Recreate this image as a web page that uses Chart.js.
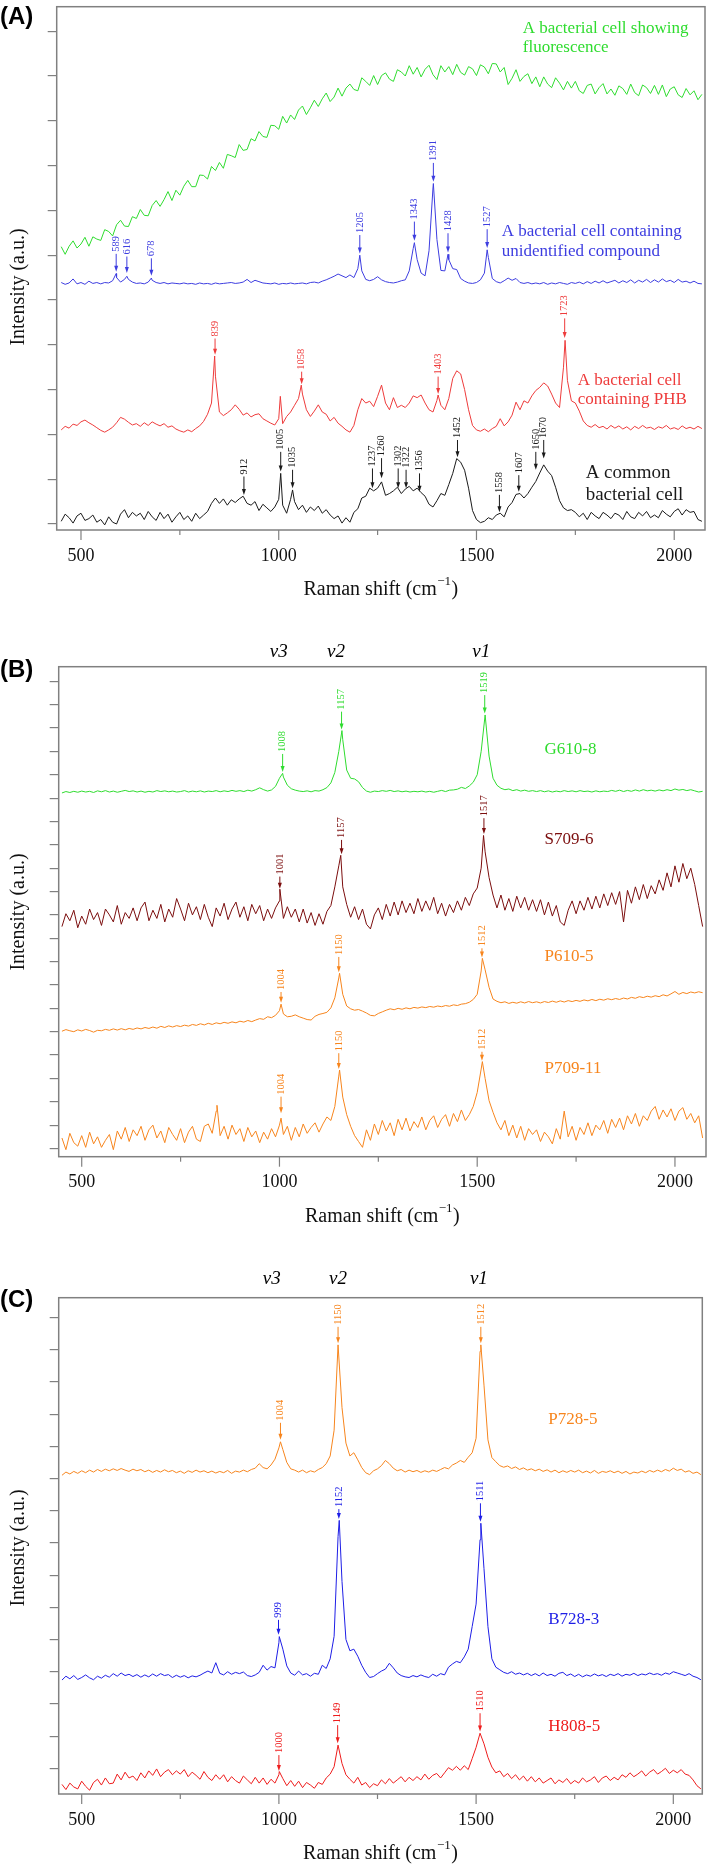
<!DOCTYPE html>
<html>
<head>
<meta charset="utf-8">
<script src="https://cdn.jsdelivr.net/npm/chart.js@4.4.1/dist/chart.umd.min.js"></script>
<style>
    body { margin: 0; background: #fff; width: 709px; height: 1867px; position: relative; overflow: hidden; }
    canvas { position: absolute; left: 0; }
</style>
</head>
<body>
<canvas id="panelA" width="709" height="605" style="top:0px"></canvas>
<canvas id="panelB" width="709" height="600" style="top:630px"></canvas>
<canvas id="panelC" width="709" height="612" style="top:1255px"></canvas>
<script>
// =========================
// DATA (Raman shift grid, cm-1)
// =========================
const shiftGrid = [
    450, 460, 470, 480, 490, 500, 510, 520, 530, 540,
    550, 560, 570, 580, 590, 600, 610, 620, 630, 640,
    650, 660, 670, 680, 690, 700, 710, 720, 730, 740,
    750, 760, 770, 780, 790, 800, 810, 820, 830, 840,
    850, 860, 870, 880, 890, 900, 910, 920, 930, 940,
    950, 960, 970, 980, 990, 1000, 1010, 1020, 1030, 1040,
    1050, 1060, 1070, 1080, 1090, 1100, 1110, 1120, 1130, 1140,
    1150, 1160, 1170, 1180, 1190, 1200, 1210, 1220, 1230, 1240,
    1250, 1260, 1270, 1280, 1290, 1300, 1310, 1320, 1330, 1340,
    1350, 1360, 1370, 1380, 1390, 1400, 1410, 1420, 1430, 1440,
    1450, 1460, 1470, 1480, 1490, 1500, 1510, 1520, 1530, 1540,
    1550, 1560, 1570, 1580, 1590, 1600, 1610, 1620, 1630, 1640,
    1650, 1660, 1670, 1680, 1690, 1700, 1710, 1720, 1730, 1740,
    1750, 1760, 1770, 1780, 1790, 1800, 1810, 1820, 1830, 1840,
    1850, 1860, 1870, 1880, 1890, 1900, 1910, 1920, 1930, 1940,
    1950, 1960, 1970, 1980, 1990, 2000, 2010, 2020, 2030, 2040,
    2050, 2060, 2070
];

const xTickValues = [500, 750, 1000, 1250, 1500, 1750, 2000];

// ---- Panel A ----
const fluorescenceCell = [
    61.9, 60.2, 62.0, 63.2, 61.6, 62.5, 64.0, 62.0, 64.1, 63.6,
    63.3, 65.7, 65.3, 64.3, 66.8, 67.8, 66.5, 66.4, 68.6, 68.2,
    70.2, 68.9, 68.8, 71.1, 72.2, 70.9, 72.4, 74.2, 72.2, 74.5,
    73.4, 75.4, 76.7, 75.3, 75.3, 77.9, 77.8, 77.0, 79.8, 78.9,
    80.7, 79.4, 82.5, 82.2, 81.8, 84.7, 83.4, 83.6, 86.0, 85.5,
    87.6, 86.5, 86.3, 89.0, 88.9, 88.1, 91.0, 89.5, 91.3, 90.3,
    92.4, 93.3, 91.4, 92.9, 94.6, 93.2, 94.9, 96.2, 94.3, 95.3,
    97.3, 95.5, 97.3, 98.2, 97.0, 96.7, 99.6, 98.8, 97.9, 100.1,
    98.1, 100.1, 100.7, 99.3, 98.8, 101.4, 100.9, 100.0, 102.3, 100.4,
    101.9, 99.8, 101.5, 102.4, 100.3, 99.2, 102.3, 100.9, 102.1, 100.3,
    102.6, 100.8, 100.2, 102.1, 101.6, 100.1, 102.5, 102.0, 100.5, 102.8,
    102.7, 100.9, 101.9, 98.1, 99.5, 101.4, 98.8, 99.9, 100.5, 98.3,
    99.8, 97.6, 99.8, 98.2, 97.4, 99.6, 98.4, 96.9, 98.8, 97.3,
    98.8, 96.7, 96.1, 97.9, 98.2, 96.0, 97.4, 98.3, 96.0, 97.1,
    95.7, 97.8, 97.2, 95.9, 98.2, 96.3, 95.6, 98.0, 97.4, 96.1,
    97.9, 95.9, 98.0, 95.4, 97.1, 97.6, 95.8, 95.2, 97.2, 95.8,
    96.7, 94.7, 95.9
];
const fluorescencePeaks = [];

const unknownCell = [
    53.9, 53.5, 53.8, 54.7, 53.6, 53.9, 53.5, 54.2, 53.7, 53.9,
    53.6, 53.9, 53.8, 54.3, 55.0, 54.0, 54.6, 54.6, 54.0, 53.7,
    53.8, 53.6, 54.0, 54.4, 53.9, 53.7, 53.9, 53.6, 53.8, 53.7,
    53.6, 53.8, 53.6, 53.7, 53.5, 53.8, 53.6, 53.7, 53.5, 53.8,
    53.6, 53.7, 53.8, 53.9, 53.7, 53.8, 54.0, 54.6, 53.9, 54.4,
    54.1, 53.8, 53.7, 53.6, 53.8, 53.5, 53.7, 53.6, 53.8, 53.6,
    53.7, 53.8, 53.6, 53.9, 54.0, 53.8, 54.2, 54.5, 54.9, 55.3,
    55.8, 55.4, 55.0, 55.6, 55.0, 57.0, 56.5, 54.6, 54.3, 54.6,
    55.2, 54.5, 54.1, 53.9, 53.8, 54.0, 54.3, 54.5, 56.5, 61.5,
    59.0, 56.0, 55.4, 61.0, 75.0, 63.5, 56.6, 56.5, 59.0, 57.0,
    56.8, 54.8, 54.2, 53.8, 53.7, 53.9, 54.5, 56.0, 59.5, 54.8,
    54.1, 53.8, 54.3, 54.9, 54.4, 54.8, 53.9, 53.7, 53.9, 53.6,
    53.8, 53.6, 53.9, 53.5, 53.8, 53.6, 53.9, 53.7, 53.5, 53.9,
    53.7, 54.0, 53.6, 54.1, 53.7, 54.2, 53.8, 54.3, 53.8, 54.1,
    54.4, 53.8, 54.3, 53.9, 54.5, 53.8, 54.4, 54.0, 54.6, 53.9,
    54.5, 54.0, 54.7, 54.1, 54.4, 53.9, 54.6, 54.0, 54.2, 53.8,
    54.2, 53.7, 53.6
];
const unknownPeaks = [[589, 55.9], [616, 55.3], [678, 54.9], [1205, 60.0], [1343, 62.8], [1391, 76.0], [1428, 60.2], [1527, 61.2]];

const phbCell = [
    21.0, 21.8, 21.4, 22.3, 22.0, 22.8, 23.2, 22.6, 22.1, 21.5,
    20.9, 20.5, 21.0, 21.6, 22.6, 23.8, 23.4, 22.7, 22.1, 22.4,
    21.8, 22.6, 22.0, 22.8, 22.3, 21.9, 22.4, 21.6, 21.9, 21.2,
    20.8, 20.5, 21.0, 20.6, 21.3, 21.9, 22.9, 24.5, 27.0, 33.0,
    25.0, 24.2, 24.8, 25.5, 26.6, 25.6, 24.3, 24.8, 23.9, 24.4,
    24.6, 23.5, 23.0, 22.5, 22.1, 23.5, 22.4, 24.0, 25.0, 26.5,
    28.0, 29.0, 25.5, 24.0, 25.2, 26.6, 25.0, 24.5, 23.0, 23.8,
    22.5, 21.8, 21.0, 20.5, 22.0, 25.5, 28.0, 27.0, 27.4, 26.2,
    28.5, 31.0, 27.0, 25.5, 28.2, 26.0, 26.5, 26.0, 27.0, 28.6,
    28.2, 28.8, 27.0, 25.5, 25.0, 27.6, 26.5, 25.5, 28.0, 32.5,
    34.2, 33.5, 30.0, 25.5, 22.0, 21.0, 20.7, 21.2, 20.6, 21.3,
    21.8, 23.5, 21.9, 22.8, 24.3, 27.2, 25.5, 27.5, 27.0, 28.6,
    29.8, 30.5, 31.5, 30.8, 29.0, 27.0, 26.0, 35.0, 32.0, 27.5,
    27.0, 25.2, 23.0, 22.0, 21.6, 22.2, 21.5, 21.8, 21.2, 22.0,
    21.4, 21.9, 21.2, 21.7, 21.0, 21.8, 21.3, 22.0, 21.4, 21.6,
    21.1, 21.7, 21.4, 22.0, 21.2, 21.5, 21.1, 21.9, 21.3, 21.6,
    21.2, 21.8, 21.3
];
const phbPeaks = [[838, 37.5], [1004, 28.5], [1057, 31.0], [1403, 28.8], [1724, 41.0]];

const commonCell = [
    0.6, 2.2, 1.4, 0.2, 1.8, 2.4, 0.8, 1.2, 2.0, 0.4,
    1.0, -0.2, 1.6, 0.4, 0.0, 2.2, 3.2, 1.4, 2.6, 1.8,
    2.4, 1.0, 2.8, 1.6, 0.8, 2.6, 1.2, 2.2, 0.4, 1.6,
    2.6, 1.0, 1.8, 0.6, 2.4, 1.2, 2.0, 2.8, 4.6, 5.8,
    4.6, 5.6, 4.2, 5.4, 4.8, 5.6, 6.2, 4.6, 4.2, 5.0,
    3.0, 4.4, 3.6, 2.8, 3.8, 5.5, 4.2, 2.4, 5.5, 5.0,
    3.2, 4.2, 2.6, 3.8, 3.0, 4.0, 2.4, 3.2, 2.0, 1.2,
    1.8, 0.2, 1.4, 0.4, 2.6, 3.4, 5.8, 6.2, 8.0, 7.4,
    8.0, 9.4, 6.4, 6.8, 7.4, 8.2, 6.8, 7.8, 8.4, 7.4,
    8.0, 7.0, 6.2, 4.4, 3.8, 5.2, 6.8, 6.4, 8.8, 11.3,
    14.6, 13.8, 12.0, 8.0, 3.0, 1.0, 0.3, 0.6, 1.4, 1.0,
    2.0, 2.4, 1.6, 3.8, 4.8, 6.6, 6.8, 5.8, 6.8, 8.2,
    9.5, 11.4, 13.2, 11.8, 10.8, 8.2, 5.2, 3.6, 3.0, 3.2,
    2.6, 1.6, 2.4, 1.0, 2.6, 1.8, 1.2, 2.6, 2.0, 1.2,
    2.4, 2.0, 1.0, 2.8, 1.6, 1.2, 2.6, 1.8, 2.8, 1.4,
    2.0, 1.4, 3.0, 2.2, 1.6, 2.8, 3.4, 2.0, 3.2, 2.6,
    2.8, 1.0, 0.6
];
const commonPeaks = [[1005, 11.3], [1035, 7.6]];

// peak marks: [shift, arrow top, arrow tip]
const unknownMarks = [[589, 60.3, 56.3], [616, 59.7, 56.0], [678, 59.3, 55.4], [1205, 64.5, 60.4], [1343, 67.5, 63.2], [1391, 80.6, 76.4], [1428, 64.9, 60.6], [1527, 65.8, 61.6]];
const phbMarks = [[839, 41.4, 37.8], [1058, 34.0, 31.2], [1403, 32.9, 29.0], [1723, 45.9, 41.5]];
const commonMarks = [[912, 10.6, 6.5], [1005, 16.1, 11.7], [1035, 12.1, 8.0], [1237, 12.4, 8.0], [1260, 14.7, 10.2], [1302, 12.4, 8.0], [1322, 12.1, 8.0], [1356, 11.3, 7.2], [1452, 18.75, 14.9], [1558, 6.5, 2.6], [1607, 10.9, 7.2], [1650, 16.1, 12.1], [1670, 18.75, 14.6]];

// ---- Panel B ----
const g6108 = [
    152.2, 152.8, 152.4, 152.9, 152.5, 153.0, 152.6, 152.9, 152.4, 153.1,
    152.7, 153.2, 152.6, 153.0, 152.5, 152.9, 153.3, 152.8, 153.1, 152.6,
    153.0, 152.5, 152.9, 152.6, 153.2, 152.8, 153.1, 152.7, 153.0, 152.6,
    152.8, 153.2, 152.6, 153.0, 152.7, 153.1, 152.6, 153.0, 152.8, 153.2,
    152.7, 153.1, 152.8, 153.3, 152.9, 153.2, 152.8, 153.4, 153.0, 153.6,
    154.4, 153.6, 153.0, 153.5, 155.0, 158.5, 159.0, 155.5, 154.0, 153.4,
    153.0, 152.8, 153.1, 152.7, 153.2, 153.0, 153.6, 154.5, 156.5, 161.0,
    170.0, 175.0, 162.0, 158.5, 158.2, 157.0, 154.5, 153.0, 152.5, 153.0,
    152.8, 153.2, 152.9, 153.3, 152.8, 153.1, 152.7, 153.0, 152.6, 152.9,
    152.7, 153.0, 152.6, 152.9, 152.5, 152.9, 153.3, 152.8, 153.4, 153.5,
    153.8, 154.6, 154.1, 155.2, 156.8, 160.0, 170.0, 185.6, 168.0, 158.5,
    155.5, 154.2, 153.6, 153.9, 153.2, 153.6, 153.0, 153.4, 152.9, 153.2,
    152.8, 153.2, 152.7, 153.1, 152.6, 153.0, 152.7, 153.2, 152.8, 153.1,
    152.7, 153.2, 152.8, 153.0, 152.6, 153.1, 152.7, 153.0, 152.8, 153.3,
    152.9, 153.4, 152.8, 153.3, 152.9, 153.5, 153.0, 153.6, 153.1, 153.4,
    153.0, 153.5, 153.1, 153.6, 153.2, 153.9, 153.4, 153.7, 153.2, 153.6,
    153.1, 152.6, 152.9
];
const g6108Peaks = [[1008, 160.6], [1158, 178.9]];

const s7096 = [
    95.0, 100.5, 97.5, 102.0, 94.5, 99.5, 96.0, 102.5, 98.0, 101.0,
    95.5, 102.5, 100.0, 97.0, 104.0, 96.0, 101.0, 98.5, 103.0, 97.5,
    103.0, 105.5, 97.5, 102.0, 98.5, 104.5, 97.0, 102.5, 99.0, 107.0,
    102.5, 97.5, 105.0, 100.0, 103.5, 98.0, 104.5, 99.0, 95.0, 103.0,
    99.5, 105.0, 98.0, 102.5, 105.5, 99.0, 103.5, 97.5, 104.5, 100.5,
    104.0, 97.5, 102.5, 98.5, 103.0, 106.0, 98.5, 103.5, 99.0, 102.5,
    97.0, 102.5, 96.5, 101.0, 95.5, 100.5, 96.0, 101.5, 104.0, 112.0,
    121.0, 112.0, 104.5, 99.0, 103.5, 98.0, 102.5, 96.0, 94.0, 100.0,
    103.0, 98.0, 104.5, 99.5, 105.5, 100.0, 106.0, 101.0, 105.0, 100.5,
    107.0, 101.5, 106.0, 102.0, 107.5, 100.5, 105.0, 99.5, 104.5, 101.0,
    106.0, 102.0, 107.5, 104.0, 109.0, 111.5, 120.0, 127.0, 116.0, 108.5,
    103.0, 108.5, 102.0, 107.0, 101.5, 108.0, 103.0, 107.5, 102.0, 106.5,
    101.5, 106.5, 100.0, 105.5, 99.5, 104.0, 97.0, 95.5, 102.0, 106.0,
    100.5, 106.0, 102.0, 107.5, 102.5, 108.0, 103.0, 109.0, 104.0, 109.5,
    104.5, 110.0, 97.0, 110.5, 105.0, 112.0, 106.5, 113.0, 107.0, 112.5,
    109.0, 115.0, 110.5, 118.0, 112.0, 121.0, 114.0, 122.0, 115.5, 120.0,
    113.0, 104.0, 95.0
];
const s7096Peaks = [[1001, 111.0], [1155, 125.5], [1516, 134.0]];

const p6105 = [
    50.2, 50.9, 50.4, 50.0, 50.8, 50.3, 51.0, 50.5, 49.8, 50.6,
    50.4, 51.0, 50.6, 51.2, 50.7, 51.3, 50.8, 51.4, 51.0, 51.6,
    51.2, 51.8, 51.4, 52.0, 51.5, 52.3, 51.8, 52.5, 52.0, 52.6,
    52.2, 52.8, 52.4, 53.1, 52.7, 53.4, 52.9, 53.6, 53.1, 53.8,
    53.4, 54.0, 53.6, 54.2, 53.8, 54.5, 54.1, 54.8, 54.3, 55.0,
    55.6, 55.3, 56.4, 56.0, 57.0, 59.0, 57.6, 56.4, 56.6, 57.2,
    56.4, 55.8, 55.2, 55.0, 56.6, 57.4, 57.8, 58.3, 60.2, 64.5,
    73.0, 66.0, 61.0, 59.8, 59.2, 59.5, 58.8, 58.0, 57.0, 56.8,
    57.8, 58.5, 59.2, 59.8, 59.4, 60.0, 59.6, 60.2, 59.8, 60.4,
    60.1, 60.6, 60.3, 60.8, 60.5, 61.0, 60.7, 61.2, 60.9, 61.5,
    61.2, 61.8, 62.0, 62.6, 63.8, 66.0, 76.0, 76.5, 69.0, 64.0,
    63.0, 62.4, 62.8, 62.1, 62.6, 62.2, 62.8, 62.3, 62.9, 62.4,
    62.8, 62.3, 62.9, 62.5, 63.1, 62.6, 63.2, 62.7, 63.3, 62.9,
    63.4, 63.0, 63.6, 63.2, 63.8, 63.3, 63.9, 63.5, 64.1, 63.7,
    64.2, 63.8, 64.4, 64.0, 64.7, 64.3, 65.0, 64.6, 65.2, 64.8,
    65.4, 65.0, 65.8, 65.3, 66.2, 67.2, 66.0, 66.8, 66.3, 67.0,
    66.6, 67.1, 66.7
];
const p6105Peaks = [[1004, 61.8], [1152, 75.0], [1513, 81.4]];

const p70911 = [
    4.5, -0.5, 6.5, 2.5, 1.0, 5.5, 0.5, 7.0, 2.0, 5.0,
    0.5, 3.5, 6.0, -0.5, 7.5, 4.0, 9.0, 3.0, 8.0, 5.5,
    9.5, 3.5, 8.0, 10.0, 4.5, 7.5, 2.5, 9.0, 6.0, 3.5,
    8.5, 2.5, 7.0, 9.5, 4.0, 3.0, 9.5, 10.5, 6.5, 16.0,
    5.5, 9.5, 4.0, 10.0, 6.0, 8.5, 3.0, 9.0, 5.0, 7.5,
    2.5, 7.0, 4.0, 8.5, 5.0, 10.0, 6.0, 9.5, 3.5, 9.0,
    5.0, 10.5, 6.5, 9.0, 11.0, 7.0, 10.5, 13.5, 12.0, 18.0,
    31.0, 22.0, 14.5, 9.5, 5.5, 3.0, 0.5, 8.0, 3.5, 10.5,
    6.0, 12.0, 7.5, 11.0, 5.5, 12.5, 8.0, 13.0, 7.5, 11.5,
    9.0, 13.5, 8.0, 12.0, 14.0, 9.0, 12.5, 14.5, 9.5, 15.0,
    11.5, 16.5, 12.0, 14.5, 18.0, 24.0, 34.0, 30.0, 20.5, 15.5,
    11.0, 8.0, 12.0, 5.5, 10.0, 4.5, 9.5, 3.5, 8.5, 6.0,
    8.0, 3.0, 7.0, 5.0, 2.0, 8.5, 4.0, 16.0, 5.0, 9.5,
    3.5, 9.0, 6.0, 11.0, 5.5, 10.0, 8.0, 12.0, 6.5, 12.5,
    9.0, 13.0, 8.0, 14.0, 10.5, 15.0, 9.5, 14.0, 12.0, 16.0,
    18.0, 12.5, 16.5, 13.5, 17.0, 12.0, 16.0, 17.5, 12.5, 15.0,
    11.0, 14.0, 4.5
];
const p70911Peaks = [[842, 18.5], [1004, 13.0], [1152, 33.6], [1513, 37.2]];

const g6108Marks = [[1008, 168.9, 161.2], [1157, 187.0, 179.4], [1519, 194.1, 186.2]];
const s7096Marks = [[1001, 116.4, 111.2], [1157, 132.1, 126.0], [1517, 141.4, 134.6]];
const p6105Marks = [[1004, 67.0, 62.4], [1150, 82.0, 75.4], [1512, 85.7, 81.8]];
const p70911Marks = [[1004, 22.2, 15.1], [1150, 40.8, 34.0], [1512, 41.4, 37.6]];

// ---- Panel C ----
const p7285 = [
    91.0, 92.0, 91.4, 92.2, 91.6, 92.4, 91.8, 92.6, 92.0, 92.8,
    92.2, 92.9, 92.4, 93.0, 92.5, 93.1, 92.6, 92.2, 92.9, 92.4,
    92.8, 92.1, 92.6, 91.9, 92.5, 92.0, 92.7, 92.1, 92.5, 91.8,
    92.3, 91.6, 92.4, 91.9, 92.6, 92.0, 92.4, 91.8, 92.3, 91.7,
    92.2, 91.8, 92.5, 91.6, 92.3, 92.0, 92.6, 92.1, 92.8, 93.2,
    94.6, 93.4, 93.0, 94.2, 96.0, 99.5, 99.0, 95.0, 93.0, 92.6,
    92.0, 92.6, 91.8, 92.4, 92.0, 92.8, 93.4, 94.6, 97.0, 105.0,
    131.5, 112.0, 101.0, 97.0, 98.0, 95.8, 93.4, 91.8, 91.2, 92.4,
    93.0, 94.0, 95.6, 94.6, 93.2, 92.4, 92.8, 92.0, 92.6, 92.1,
    92.5, 91.9, 92.4, 92.0, 92.6, 92.2, 92.8, 93.4, 93.0, 94.2,
    94.8, 95.6, 95.0, 96.6, 98.0, 102.5, 129.5, 119.0, 102.0, 96.5,
    95.2, 94.0, 93.5, 93.9, 93.1, 93.6, 92.8, 93.3, 92.6, 93.0,
    92.4, 92.9, 92.2, 92.7, 92.0, 92.6, 91.8, 92.4, 91.9, 92.5,
    92.0, 92.6, 91.8, 92.3, 91.7, 92.5, 91.6, 92.2, 91.9, 92.4,
    91.8, 92.3, 91.6, 92.2, 91.4, 92.0, 91.7, 92.3, 91.8, 92.5,
    92.0, 92.6, 92.1, 92.8, 92.3, 93.2, 92.5, 92.9, 92.0, 92.4,
    91.6, 92.0, 91.2
];
const p7285Peaks = [[1004, 101.4], [1512, 131.5]];

const b7283 = [
    27.4, 28.6, 27.8, 28.8, 27.6, 28.2, 29.0, 28.1, 27.5, 28.6,
    28.0, 28.9, 28.3, 29.4, 28.6, 29.6, 28.8, 29.2, 28.5, 29.1,
    28.3, 29.0, 28.4, 29.3, 28.6, 29.4, 28.8, 29.1, 28.2, 28.9,
    28.3, 28.8, 28.1, 28.7, 28.4, 28.9, 29.6, 30.2, 29.6, 32.8,
    29.5, 29.0, 30.0, 29.2, 29.8, 29.4, 29.9, 28.8, 28.5, 29.0,
    29.8, 32.0, 30.5, 31.6, 31.2, 39.0, 37.0, 31.8, 29.6, 28.9,
    30.2, 29.0, 29.4, 28.6, 29.5, 29.2, 32.0, 31.0, 34.0, 41.0,
    72.0, 58.0, 40.0, 36.5, 37.0, 34.8, 32.0, 29.8, 28.2, 28.5,
    29.4, 30.2, 30.8, 32.6, 31.2, 29.6, 28.8, 28.4, 28.2, 28.8,
    28.4, 29.0, 28.5, 28.2, 29.2, 28.6, 29.4, 29.0, 31.4, 32.4,
    33.2, 32.8, 34.6, 37.0, 44.0, 51.0, 71.0, 62.0, 44.0, 34.0,
    31.4, 30.6, 29.8, 29.4, 30.0, 29.2, 29.6, 29.0, 29.5, 28.8,
    29.4, 28.7, 29.6, 28.8, 29.2, 28.6, 29.5, 29.8, 28.8, 29.3,
    28.5, 29.2, 28.4, 29.0, 28.6, 29.3, 28.7, 29.1, 28.5, 29.2,
    28.8, 29.4, 28.6, 29.2, 28.9, 29.5, 28.8, 29.3, 29.0, 29.6,
    29.1, 29.4, 28.9, 29.6, 29.2, 30.0, 29.6, 29.2, 28.8, 29.4,
    28.6, 28.2, 27.5
];
const b7283Peaks = [[1001, 40.9], [1153, 77.0], [1512, 76.1]];

const h8085 = [
    -5.0, -6.6, -4.6, -5.8, -6.4, -4.0, -5.6, -6.8, -4.4, -3.4,
    -5.2, -3.0, -4.8, -4.6, -1.8, -3.6, -1.2, -3.0, -2.4, -3.8,
    -1.4, -3.0, -0.8, -2.2, -0.2, -2.6, -1.2, -0.4, -2.0, -0.8,
    -1.8, -0.4, -2.6, -1.2, -2.2, -3.4, -1.0, -2.8, -3.8, -2.0,
    -3.4, -2.0, -4.2, -2.6, -3.8, -4.6, -2.4, -3.6, -4.8, -2.8,
    -4.6, -3.0, -5.0, -3.4, -4.6, -2.0, -3.2, -5.4, -3.8, -5.6,
    -4.0, -6.0, -4.4, -5.2, -6.2, -4.4, -5.0, -3.0, -1.8, 0.5,
    7.2, 1.5, -2.0, -3.4, -4.6, -2.8, -5.2, -4.4, -6.0, -4.8,
    -5.4, -3.6, -4.8, -3.2, -4.6, -3.6, -2.6, -4.2, -2.8, -3.8,
    -2.6, -3.6, -1.8, -3.4, -2.2, -1.6, -3.0, -1.4, 0.2, -0.6,
    0.6, -0.6, 0.8, -0.4, 3.0, 6.5, 10.9, 7.6, 3.4, 0.4,
    -1.4, -0.8, -2.6, -1.6, -3.2, -2.0, -3.6, -2.4, -4.0, -2.6,
    -4.2, -3.0, -4.6, -3.8, -3.0, -4.8, -3.6, -4.4, -3.2, -4.8,
    -3.8, -4.6, -3.0, -4.2, -3.6, -2.6, -4.4, -3.0, -2.4, -3.8,
    -2.8, -3.6, -2.0, -2.8, -1.4, -2.6, -1.8, -0.8, -2.4, -1.2,
    -0.4, -1.8, -1.0, 0.0, -1.6, -0.6, -1.4, -0.4, -1.8, -2.2,
    -3.6, -5.4, -6.4
];
const h8085Peaks = [[1001, -1.0]];

const p7285Marks = [[1004, 107.3, 102.0], [1150, 137.1, 132.0], [1512, 137.1, 132.0]];
const b7283Marks = [[999, 46.1, 41.5], [1152, 80.5, 77.4], [1511, 82.3, 76.6]];
const h8085Marks = [[1000, 4.1, -0.8], [1149, 13.4, 7.8], [1510, 17.1, 11.4]];

// =========================
// COLOURS
// =========================
const GREEN = "#2fdc2f";
const BLUE_A = "#3d3de0";
const RED_A = "#ee3b3b";
const BLACK = "#1a1a1a";
const DARK_RED = "#7b0d0d";
const ORANGE = "#f7851d";
const BLUE_C = "#1e1ee6";
const RED_C = "#ee1c1c";
const FRAME = "#808080";
const SERIF = '"Liberation Serif", "Times New Roman", serif';

// =========================
// PANELS
// =========================
const panels = [
    {
        id: "panelA", top: 0, height: 605,
        area: { left: 56.7, right: 705, top: 6.7, bottom: 530 },
        xRange: [438.6, 2077.8], yRange: [-1.34, 115.47],
        letter: ["(A)", 17.5], yTitleY: 287, vY: null, vLabels: [],
        series: [
            { values: fluorescenceCell, peaks: fluorescencePeaks, color: GREEN, marks: [],
              label: ["A bacterial cell showing", "fluorescence"], lx: 1617, ly: [110.7, 106.3], size: 17 },
            { values: unknownCell, peaks: unknownPeaks, color: BLUE_A, marks: unknownMarks,
              label: ["A bacterial cell containing", "unidentified compound"], lx: 1564, ly: [65.2, 60.8], size: 17 },
            { values: phbCell, peaks: phbPeaks, color: RED_A, marks: phbMarks,
              label: ["A bacterial cell", "containing PHB"], lx: 1756, ly: [32.1, 27.7], size: 17 },
            { values: commonCell, peaks: commonPeaks, color: BLACK, marks: commonMarks,
              label: ["A common", "bacterial cell"], lx: 1776, ly: [11.3, 6.5], size: 19 }
        ]
    },
    {
        id: "panelB", top: 630, height: 600,
        area: { left: 58.7, right: 706, top: 666.7, bottom: 1156.7 },
        xRange: [441.8, 2078.5], yRange: [-3.51, 206.25],
        letter: ["(B)", 670], yTitleY: 912, vY: 651.7,
        vLabels: [["v3", 998], ["v2", 1143], ["v1", 1510]],
        series: [
            { values: g6108, peaks: g6108Peaks, color: GREEN, marks: g6108Marks,
              label: ["G610-8"], lx: 1670, ly: [170.6], size: 17 },
            { values: s7096, peaks: s7096Peaks, color: DARK_RED, marks: s7096Marks,
              label: ["S709-6"], lx: 1670, ly: [132.1], size: 17 },
            { values: p6105, peaks: p6105Peaks, color: ORANGE, marks: p6105Marks,
              label: ["P610-5"], lx: 1670, ly: [82.1], size: 17 },
            { values: p70911, peaks: p70911Peaks, color: ORANGE, marks: p70911Marks,
              label: ["P709-11"], lx: 1670, ly: [34.3], size: 17 }
        ]
    },
    {
        id: "panelC", top: 1255, height: 612,
        area: { left: 58.7, right: 702.3, top: 1297.7, bottom: 1794 },
        xRange: [441.7, 2073.5], yRange: [-7.98, 146.15],
        letter: ["(C)", 1300], yTitleY: 1548, vY: 1279,
        vLabels: [["v3", 982], ["v2", 1150], ["v1", 1507]],
        series: [
            { values: p7285, peaks: p7285Peaks, color: ORANGE, marks: p7285Marks,
              label: ["P728-5"], lx: 1683, ly: [108.2], size: 17 },
            { values: b7283, peaks: b7283Peaks, color: BLUE_C, marks: b7283Marks,
              label: ["B728-3"], lx: 1683, ly: [46.1], size: 17 },
            { values: h8085, peaks: h8085Peaks, color: RED_C, marks: h8085Marks,
              label: ["H808-5"], lx: 1683, ly: [12.9], size: 17 }
        ]
    }
];

// =========================
// HELPERS
// =========================
function buildSeries(values, peaks) {
    const pts = shiftGrid.map((x, i) => ({ x: x, y: values[i] }));
    peaks.forEach(p => pts.push({ x: p[0], y: p[1] }));
    return pts.sort((a, b) => a.x - b.x);
}

function drawMark(ctx, px, yTop, yTip, text, color) {
    ctx.strokeStyle = color;
    ctx.fillStyle = color;
    ctx.lineWidth = 1;
    ctx.beginPath();
    ctx.moveTo(px, yTop);
    ctx.lineTo(px, yTip - 4);
    ctx.stroke();
    ctx.beginPath();
    ctx.moveTo(px - 2, yTip - 6);
    ctx.lineTo(px + 2, yTip - 6);
    ctx.lineTo(px, yTip);
    ctx.closePath();
    ctx.fill();

    ctx.save();
    ctx.translate(px, yTop - 2);
    ctx.rotate(-Math.PI / 2);
    ctx.font = "10.5px " + SERIF;
    ctx.textAlign = "left";
    ctx.textBaseline = "middle";
    ctx.fillText(text, 0, 0);
    ctx.restore();
}

function drawXTitle(ctx, cx, cy) {
    const main = "20px " + SERIF;
    const sup = "13px " + SERIF;
    ctx.fillStyle = "#111";
    ctx.textAlign = "left";
    ctx.textBaseline = "middle";
    ctx.font = main;
    const w1 = ctx.measureText("Raman shift (cm").width;
    const w3 = ctx.measureText(")").width;
    ctx.font = sup;
    const w2 = ctx.measureText("\u22121").width;
    const x0 = cx - (w1 + w2 + w3 + 1) / 2;
    ctx.font = main;
    ctx.fillText("Raman shift (cm", x0, cy);
    ctx.font = sup;
    ctx.fillText("\u22121", x0 + w1 + 0.5, cy - 8);
    ctx.font = main;
    ctx.fillText(")", x0 + w1 + w2 + 1, cy);
}

function makeDecor(panel) {
    return {
        id: "decor_" + panel.id,
        afterDraw(chart) {
            const ctx = chart.ctx;
            const a = chart.chartArea;
            const xs = chart.scales.x;
            const ys = chart.scales.y;
            const off = panel.top;

            ctx.save();
            // frame
            ctx.strokeStyle = FRAME;
            ctx.lineWidth = 1.5;
            ctx.strokeRect(a.left, a.top, a.right - a.left, a.bottom - a.top);

            // x tick marks (long on labelled ones)
            ctx.lineWidth = 1.2;
            xTickValues.forEach(v => {
                const px = xs.getPixelForValue(v);
                const len = v % 500 === 0 ? 10 : 5;
                ctx.beginPath();
                ctx.moveTo(px, a.bottom);
                ctx.lineTo(px, a.bottom + len);
                ctx.stroke();
            });

            // peak marks and series labels
            panel.series.forEach(s => {
                s.marks.forEach(m => {
                    drawMark(ctx, xs.getPixelForValue(m[0]), ys.getPixelForValue(m[1]),
                        ys.getPixelForValue(m[2]), String(m[0]), s.color);
                });
                ctx.fillStyle = s.color;
                ctx.font = s.size + "px " + SERIF;
                ctx.textAlign = "left";
                ctx.textBaseline = "middle";
                s.label.forEach((line, i) => {
                    ctx.fillText(line, xs.getPixelForValue(s.lx), ys.getPixelForValue(s.ly[i]));
                });
            });

            // axis titles
            drawXTitle(ctx, (a.left + a.right) / 2, a.bottom + 60);
            ctx.save();
            ctx.translate(19, panel.yTitleY - off);
            ctx.rotate(-Math.PI / 2);
            ctx.fillStyle = "#111";
            ctx.font = "20px " + SERIF;
            ctx.textAlign = "center";
            ctx.textBaseline = "middle";
            ctx.fillText("Intensity (a.u.)", 0, 0);
            ctx.restore();

            // panel letter
            ctx.fillStyle = "#000";
            ctx.font = 'bold 24px "Liberation Sans", Arial, sans-serif';
            ctx.textAlign = "left";
            ctx.textBaseline = "middle";
            ctx.fillText(panel.letter[0], 0, panel.letter[1] - off);

            // v1 / v2 / v3
            ctx.font = "italic 19px " + SERIF;
            ctx.textAlign = "center";
            panel.vLabels.forEach(v => {
                ctx.fillText(v[0], xs.getPixelForValue(v[1]), panel.vY - off);
            });
            ctx.restore();
        }
    };
}

// =========================
// CHARTS
// =========================
panels.forEach(panel => {
    const canvas = document.getElementById(panel.id);
    const a = panel.area;

    new Chart(canvas, {
        type: "line",
        data: {
            datasets: panel.series.map(s => ({
                data: buildSeries(s.values, s.peaks),
                borderColor: s.color,
                borderWidth: 1,
                pointRadius: 0,
                fill: false,
                tension: 0
            }))
        },
        options: {
            responsive: false,
            animation: false,
            events: [],
            layout: {
                padding: { left: 0, right: 709 - a.right, top: a.top - panel.top, bottom: 0 }
            },
            plugins: {
                legend: { display: false },
                tooltip: { enabled: false }
            },
            scales: {
                x: {
                    type: "linear",
                    min: panel.xRange[0],
                    max: panel.xRange[1],
                    afterBuildTicks: scale => {
                        scale.ticks = xTickValues.map(v => ({ value: v }));
                    },
                    afterFit: scale => {
                        scale.height = panel.height - (a.bottom - panel.top);
                    },
                    grid: { display: false, drawTicks: false },
                    border: { display: false },
                    ticks: {
                        autoSkip: false,
                        maxRotation: 0,
                        padding: 15,
                        color: "#111",
                        font: { family: "Liberation Serif", size: 18 },
                        callback: v => (v % 500 === 0 ? String(v) : "")
                    }
                },
                y: {
                    type: "linear",
                    min: panel.yRange[0],
                    max: panel.yRange[1],
                    afterFit: scale => {
                        scale.width = a.left;
                    },
                    ticks: { display: false, stepSize: 10, includeBounds: false },
                    grid: {
                        drawOnChartArea: false,
                        drawTicks: true,
                        tickLength: 9,
                        color: FRAME,
                        lineWidth: 1.2
                    },
                    border: { display: false }
                }
            }
        },
        plugins: [makeDecor(panel)]
    });
});
</script>
</body>
</html>
